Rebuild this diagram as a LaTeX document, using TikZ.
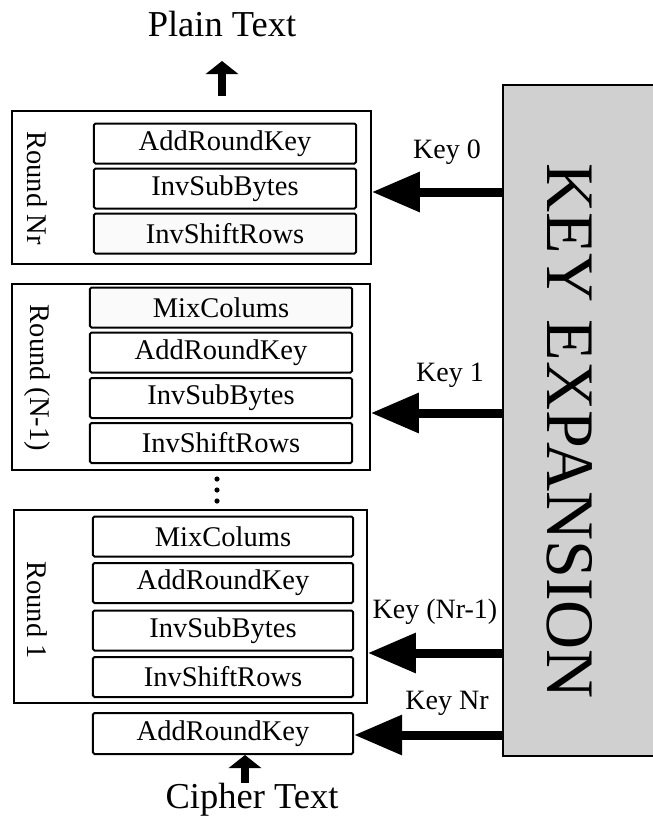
\documentclass[tikz,border=0pt]{standalone}
\usepackage{fontspec}
\setmainfont{Liberation Serif}
\usetikzlibrary{arrows.meta}
\definecolor{keygray}{RGB}{208,208,208}
\tikzset{
  outerbox/.style={draw, line width=1.5bp, inner sep=0pt},
  stepbox/.style={draw, fill=white, line width=2bp, rounded corners=1.5bp,
    minimum height=40bp, inner sep=0pt, font=\fontsize{28.5bp}{30bp}\selectfont},
  roundlabel/.style={rotate=-90, inner sep=0pt, font=\fontsize{28.5bp}{30bp}\selectfont},
  keyarrow/.style={line width=9bp, -{Triangle[length=48bp,width=38bp]}},
  flowarrow/.style={line width=7.5bp, -{Triangle[length=13bp,width=32bp]}},
  keylabel/.style={inner sep=0pt, font=\fontsize{28bp}{30bp}\selectfont},
  iolabel/.style={inner sep=0pt, font=\fontsize{36.5bp}{40bp}\selectfont},
}
\begin{document}
\begin{tikzpicture}[x=1bp, y=-1bp]
\useasboundingbox (0,0) rectangle (653,820);
\clip (0,0) rectangle (653,820);

% key expansion block (runs past the right edge)
\node[draw, fill=keygray, line width=2bp, inner sep=0pt,
      minimum width=160bp, minimum height=671bp] (kexp) at (583,420.5) {};
\node[rotate=-90, inner sep=0pt, font=\fontsize{68bp}{70bp}\selectfont] (kexptext) at (570,431) {KEY EXPANSION};

% Round Nr
\node[outerbox, minimum width=359bp, minimum height=153bp] (rnr) at (191.5,187.5) {};
\node[roundlabel] (rnrlab) at (37,188) {Round Nr};
\node[stepbox, minimum width=262bp] (nrark) at (225,143.5) {AddRoundKey};
\node[stepbox, minimum width=262bp] (nrisb) at (225,188.5) {InvSubBytes};
\node[stepbox, minimum width=262bp, fill=black!2] (nrisr) at (225,233.5) {InvShiftRows};

% Round (N-1)
\node[outerbox, minimum width=358bp, minimum height=186bp] (rnm) at (191,377) {};
\node[roundlabel] (rnmlab) at (37,378) {Round (N-1)};
\node[stepbox, minimum width=262bp, fill=black!2] (nmmc) at (221,307.5) {MixColums};
\node[stepbox, minimum width=262bp] (nmark) at (221,352.5) {AddRoundKey};
\node[stepbox, minimum width=262bp] (nmisb) at (221,398) {InvSubBytes};
\node[stepbox, minimum width=262bp] (nmisr) at (221,443) {InvShiftRows};

% ellipsis between rounds
\foreach \yy in {479,490,501} \fill (217,\yy) circle (2.6bp);

% Round 1
\node[outerbox, minimum width=353bp, minimum height=193bp] (r1) at (190.5,606.5) {};
\node[roundlabel] (r1lab) at (37,610) {Round 1};
\node[stepbox, minimum width=260bp] (r1mc) at (223,536.5) {MixColums};
\node[stepbox, minimum width=260bp] (r1ark) at (223,583) {AddRoundKey};
\node[stepbox, minimum width=260bp] (r1isb) at (223,630.5) {InvSubBytes};
\node[stepbox, minimum width=260bp] (r1isr) at (223,677) {InvShiftRows};

% initial AddRoundKey
\node[stepbox, minimum width=260bp, minimum height=41bp] (ark0) at (223,733.5) {AddRoundKey};

% input / output
\node[iolabel, anchor=base] (plain) at (222,37) {Plain Text};
\node[iolabel, anchor=base] (cipher) at (252,808) {Cipher Text};
\coordinate (plaintip) at (222,61);
\coordinate (ciphertail) at (245,783);
\draw[flowarrow] (rnr.north -| plaintip) ++(0,-14) -- (plaintip);
\draw[flowarrow] (ciphertail) -- (ciphertail |- ark0.south);

% round keys
\draw[keyarrow] (kexp.west |- 0,192) -- (rnr.east |- 0,192);
\draw[keyarrow] (kexp.west |- 0,413) -- (rnm.east |- 0,413);
\draw[keyarrow] (kexp.west |- 0,653) -- (r1.east |- 0,653);
\draw[keyarrow] (kexp.west |- 0,735) -- (ark0.east |- 0,735);
\node[keylabel] (k0) at (447,152) {Key 0};
\node[keylabel] (k1) at (450,375) {Key 1};
\node[keylabel] (knm) at (435,612) {Key (Nr-1)};
\node[keylabel] (knr) at (447,703) {Key Nr};
\end{tikzpicture}
\end{document}
